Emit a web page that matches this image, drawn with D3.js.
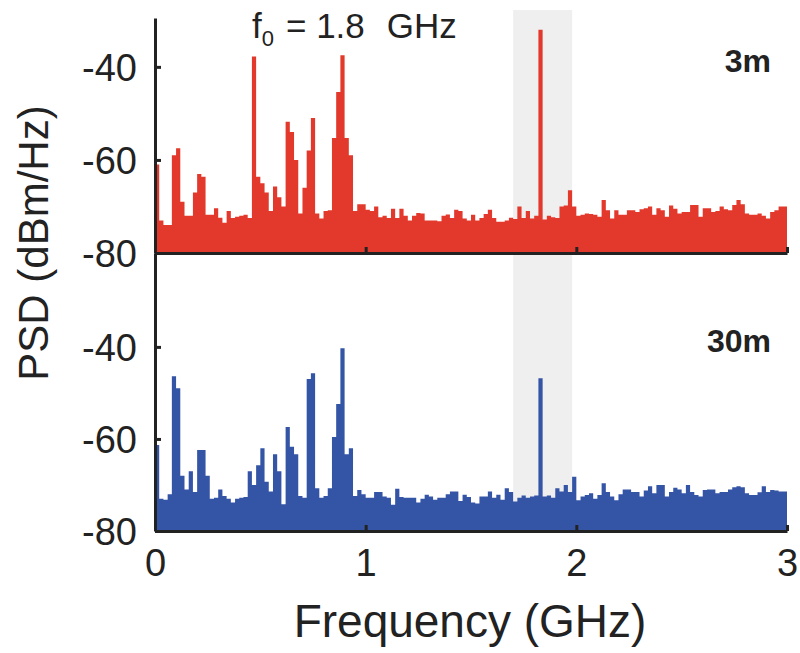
<!DOCTYPE html>
<html>
<head>
<meta charset="utf-8">
<script src="https://cdn.jsdelivr.net/npm/d3@7"></script>
<style>
  body { margin: 0; background: #fff; }
  svg text { font-family: "Liberation Sans", Arial, Helvetica, sans-serif; fill: #222; }
</style>
</head>
<body>
<div id="chart"></div>
<script>
// spectrum bins, 0.02 GHz wide, 0 to 3 GHz
var binWidth = 0.02;
var freqBins = d3.range(150).map(function (i) { return +(i * binWidth).toFixed(2); });

// PSD at 3 m (dBm/Hz)
var psd3m = [
  -61, -73, -74, -74, -59, -57.5, -69, -72, -72, -67,
  -63, -63.6, -71.8, -71.8, -70.4, -72.4, -73.5, -71, -72.5, -72.2,
  -72, -71.8, -72.5, -37.8, -63.6, -65, -67, -71, -65.7, -68,
  -70, -51.8, -54, -60, -71.5, -66, -58, -51, -71.5, -72.6,
  -71, -70.8, -55.3, -45.4, -37.5, -55.3, -59, -71, -69.5, -69.5,
  -70.7, -71, -70, -72.3, -72, -72.5, -70.5, -72.5, -70.5, -72,
  -73, -72, -71.4, -71.5, -73, -73, -73, -73.2, -72, -71.7,
  -72.5, -70.7, -71, -72.6, -73, -71.8, -73, -72.5, -71.6, -70.7,
  -72.5, -73.3, -73.3, -73, -72.4, -72.7, -70, -72.5, -71, -72.6,
  -72, -32, -72.8, -72, -72.3, -72.5, -70, -69.8, -66.5, -70,
  -72, -71.8, -71.5, -71.6, -71.8, -72.2, -68.6, -70.8, -72.6, -70.8,
  -71.8, -71.8, -70.8, -70.8, -71.2, -70.6, -70.4, -70, -71.8, -70.4,
  -70.8, -72.2, -69.8, -70.5, -71.5, -71.2, -71.2, -69.7, -69.7, -72.2,
  -70.4, -70.4, -71.2, -71, -70, -70.6, -70.8, -69.7, -68.6, -69.5,
  -71.5, -71.8, -71.8, -71.5, -72, -72.6, -71.2, -70.8, -70, -70
];

// PSD at 30 m (dBm/Hz)
var psd30m = [
  -61.3, -73, -73.2, -72, -46.4, -49, -68, -71, -67, -71.5,
  -62.4, -62.4, -68, -73, -72.8, -71, -72.4, -73, -73.8, -73,
  -72.8, -72.6, -67, -70, -65.7, -62, -69.3, -71.4, -63.3, -67,
  -74.2, -57.4, -61.7, -63.3, -72.4, -72.8, -47, -45.7, -70.7, -72.8,
  -72.4, -70.7, -59.6, -52.4, -40.3, -63.3, -62, -72.4, -71.1, -72,
  -72.8, -72.8, -71.5, -71.5, -72.5, -72.8, -74.3, -70.8, -72.6, -72.8,
  -72.8, -72.8, -73.8, -73, -72.1, -72.5, -73.2, -72.8, -72.8, -72,
  -71.4, -71.4, -73.5, -72.1, -72.6, -73.8, -74, -72.5, -72.5, -71.4,
  -72.8, -72.1, -73.2, -70.7, -71.5, -73.6, -72.8, -72.3, -72.8, -72.5,
  -72.3, -46.8, -72.5, -72.3, -72.8, -70.7, -71.4, -70, -71.5, -68.2,
  -73.3, -72.5, -72.2, -71.8, -73, -72.2, -69.6, -71.5, -72.5, -73.3,
  -72, -71, -71, -71.5, -71.5, -72.5, -71.2, -70.3, -71.8, -70,
  -70, -72.5, -71.5, -70.6, -71, -71.8, -70, -71.5, -72.2, -72.5,
  -71.1, -71, -71, -71.8, -71.5, -71.5, -71, -70.5, -70.3, -70.5,
  -71.8, -72.2, -72.2, -71.6, -70.3, -71.5, -71.1, -71.2, -71.4, -71.4
];

var yTicks = [-80, -60, -40];
var xTicks = [0, 1, 2, 3];
var band = [1.7, 1.98];

var width = 800, height = 653;
var svg = d3.select("#chart").append("svg")
    .attr("width", width)
    .attr("height", height);

var x = d3.scaleLinear().domain([0, 3]).range([155, 787]);

var panels = [
    { name: "3m", data: psd3m, color: "#e3392c", y: d3.scaleLinear().domain([-80, -29.5]).range([253, 18]), labelY: 72 },
    { name: "30m", data: psd30m, color: "#3454a6", y: d3.scaleLinear().domain([-80, -19.6]).range([531, 253]), labelY: 352 }
];

// grey band around f0
svg.append("rect")
    .attr("x", x(band[0]))
    .attr("y", 10)
    .attr("width", x(band[1]) - x(band[0]))
    .attr("height", 531 - 10)
    .attr("fill", "#efefef");

panels.forEach(function (p, k) {
    var pts = freqBins.map(function (f, i) { return [f, p.data[i]]; });
    pts.push([3, p.data[p.data.length - 1]]);

    var area = d3.area()
        .curve(d3.curveStepAfter)
        .x(function (d) { return x(d[0]); })
        .y0(p.y(-80))
        .y1(function (d) { return p.y(d[1]); });

    svg.append("path")
        .datum(pts)
        .attr("d", area)
        .attr("fill", p.color);

    // left axis
    var ga = svg.append("g")
        .attr("transform", "translate(" + x(0) + ",0)")
        .call(d3.axisLeft(p.y).tickValues(yTicks).tickSize(-6).tickSizeOuter(0).tickPadding(18)
            .tickFormat(function (d) { return d; }));
    ga.select(".domain").attr("stroke", "#222").attr("stroke-width", 3);
    ga.selectAll(".tick line").attr("stroke", "#222").attr("stroke-width", 3);
    ga.selectAll(".tick text").attr("font-size", 38).attr("fill", "#222").attr("dy", "0.36em");

    // bottom axis
    var gb = svg.append("g")
        .attr("transform", "translate(0," + p.y(-80) + ")")
        .call(d3.axisBottom(x).tickValues(xTicks).tickSize(-6).tickSizeOuter(0).tickPadding(18)
            .tickFormat(k === 1 ? d3.format("d") : ""));
    gb.select(".domain").attr("stroke", "#222").attr("stroke-width", 3);
    gb.selectAll(".tick line").attr("stroke", "#222").attr("stroke-width", 3);
    gb.selectAll(".tick text").attr("font-size", 38).attr("fill", "#222");

    svg.append("text")
        .attr("x", 771)
        .attr("y", p.labelY)
        .attr("text-anchor", "end")
        .attr("font-size", 32)
        .attr("font-weight", "bold")
        .text(p.name);
});

// f0 label
var f0 = svg.append("text")
    .attr("x", 252)
    .attr("y", 38)
    .attr("font-size", 35);
f0.append("tspan").text("f");
f0.append("tspan").attr("font-size", 22).attr("dy", 8).text("0");
f0.append("tspan").attr("dy", -8).attr("dx", 12).text("= 1.8");
f0.append("tspan").attr("dx", 22).text("GHz");

// axis titles
svg.append("text")
    .attr("transform", "translate(48,243) rotate(-90)")
    .attr("text-anchor", "middle")
    .attr("font-size", 42)
    .text("PSD (dBm/Hz)");

svg.append("text")
    .attr("x", 470)
    .attr("y", 637)
    .attr("text-anchor", "middle")
    .attr("font-size", 46)
    .text("Frequency (GHz)");
</script>
</body>
</html>
